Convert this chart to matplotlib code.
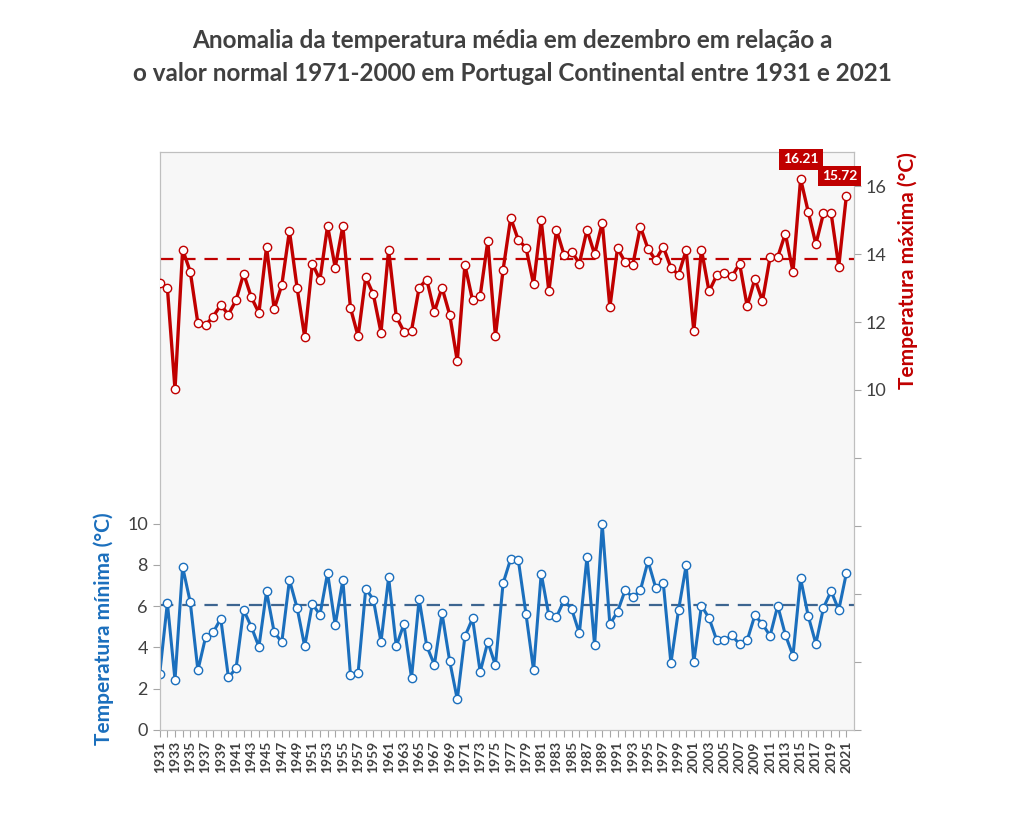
import matplotlib.pyplot as plt
import numpy as np

plt.rcParams["font.family"] = ["Lato", "DejaVu Sans"]

anos = list(range(1931, 2022))

# temperatura maxima (eixo da direita)
tmax = [13.16, 13.01, 10.02, 14.13, 13.48, 11.96, 11.91, 12.16, 12.50, 12.22,
        12.64, 13.42, 12.73, 12.27, 14.21, 12.38, 13.09, 14.68, 13.01, 11.56,
        13.72, 13.24, 14.83, 13.60, 14.83, 12.41, 11.58, 13.32, 12.81, 11.69,
        14.13, 12.16, 11.72, 11.75, 13.01, 13.25, 12.30, 13.01, 12.22, 10.85,
        13.68, 12.64, 12.77, 14.38, 11.58, 13.53, 15.06, 14.41, 14.19, 13.11,
        15.00, 12.90, 14.71, 13.97, 14.07, 13.72, 14.71, 13.99, 14.92, 12.43,
        14.17, 13.76, 13.68, 14.80, 14.15, 13.82, 14.21, 13.60, 13.39, 14.11,
        11.74, 14.13, 12.90, 13.37, 13.44, 13.34, 13.72, 12.46, 13.27, 12.62,
        13.91, 13.91, 14.60, 13.47, 16.21, 15.24, 14.29, 15.20, 15.20, 13.63,
        15.72]

# temperatura minima (eixo da esquerda)
tmin = [2.73, 6.16, 2.42, 7.90, 6.19, 2.89, 4.48, 4.73, 5.39, 2.55,
        2.98, 5.81, 5.00, 4.03, 6.71, 4.73, 4.26, 7.27, 5.92, 4.05,
        6.11, 5.58, 7.61, 5.08, 7.27, 2.65, 2.77, 6.84, 6.32, 4.26,
        7.39, 4.05, 5.13, 2.52, 6.34, 4.06, 3.16, 5.65, 3.34, 1.48,
        4.53, 5.40, 2.81, 4.27, 3.13, 7.10, 8.29, 8.23, 5.63, 2.89,
        7.58, 5.55, 5.47, 6.29, 5.85, 4.68, 8.39, 4.10, 9.97, 5.11,
        5.73, 6.77, 6.42, 6.77, 8.18, 6.90, 7.12, 3.23, 5.81, 7.98,
        3.27, 6.02, 5.42, 4.35, 4.35, 4.58, 4.15, 4.35, 5.55, 5.13,
        4.56, 6.02, 4.61, 3.60, 7.34, 5.52, 4.18, 5.92, 6.73, 5.81,
        7.60]

normal_max = 13.85
normal_min = 6.05

destaques = {2015: "16.21", 2021: "15.72"}

vermelho = "#c00000"
azul = "#1b6fbd"
azul_escuro = "#3d6590"
cinza = "#404040"

fig = plt.figure(figsize=(10.24, 8.33), dpi=100)
ax = fig.add_axes([0.156, 0.1237, 0.678, 0.6938])
ax2 = ax.twinx()

ax.set_facecolor("#f7f7f7")
ax.set_zorder(1)
ax2.set_zorder(2)
ax2.patch.set_visible(False)

ax.plot(anos, tmin, color=azul, lw=2.2, marker="o", ms=6,
        mfc="white", mec=azul, mew=1.0, zorder=3)
ax.axhline(normal_min, color=azul_escuro, lw=1.6, ls=(0, (6, 4)), zorder=2)

ax2.plot(anos, tmax, color=vermelho, lw=2.4, marker="o", ms=6,
         mfc="white", mec=vermelho, mew=1.0, zorder=3)
ax2.axhline(normal_max, color=vermelho, lw=1.6, ls=(0, (6, 4)), zorder=2)

for ano, txt in destaques.items():
    v = tmax[anos.index(ano)]
    dx = 0 if ano < 2021 else -0.9
    ax2.annotate(txt, (ano + dx, v), xytext=(0, 14), textcoords="offset points",
                 ha="center", va="center", color="white", fontsize=10,
                 fontweight="bold", clip_on=False, zorder=5,
                 bbox=dict(boxstyle="square,pad=0.3", fc=vermelho, ec="none"))

ax.set_xlim(1931, 2022)
ax.set_ylim(0, 28)
ax2.set_ylim(0, 17)

ax.set_xticks(anos)
ax.set_xticklabels([str(a) if (a - 1931) % 2 == 0 else "" for a in anos],
                   rotation=90, fontsize=10, color=cinza, fontweight="bold")
ax.set_yticks([0, 2, 4, 6, 8, 10])
ax.tick_params(axis="y", labelsize=13, colors=cinza, length=5)
ax.tick_params(axis="x", length=5, color="#a6a6a6", pad=3)
ax.tick_params(axis="y", color="#a6a6a6")

ax2.set_yticks(list(range(0, 17, 2)))
ax2.set_yticklabels([str(t) if t >= 10 else "" for t in range(0, 17, 2)])
ax2.tick_params(axis="y", labelsize=13, colors=cinza, length=5, color="#a6a6a6")

for a in (ax, ax2):
    for s in a.spines.values():
        s.set_color("#bfbfbf")

fig.text(0.101, 0.245, "Temperatura mínima (°C)", rotation=90, ha="center",
         va="center", color=azul, fontsize=15, fontweight="bold")
fig.text(0.886, 0.675, "Temperatura máxima (°C)", rotation=90, ha="center",
         va="center", color=vermelho, fontsize=15, fontweight="bold")

fig.suptitle("Anomalia da temperatura média em dezembro em relação a\n"
             "o valor normal 1971-2000 em Portugal Continental entre 1931 e 2021",
             x=0.5, y=0.965, fontsize=17.5, fontweight="bold", color=cinza,
             linespacing=1.5)

fig.savefig("out.png", dpi=100, facecolor="white")
